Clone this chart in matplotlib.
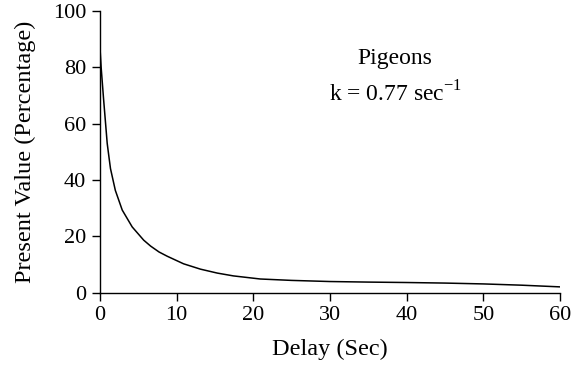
import matplotlib
matplotlib.use('Agg')
import matplotlib.pyplot as plt

# values
delay = [0, 0.02, 0.15, 0.46, 0.76, 0.94, 1.2, 1.37, 2.0, 2.9, 4.2, 5.7, 6.6,
         7.7, 8.76, 10.9, 13.1, 15.3, 17.4, 20.9, 25, 30, 35, 40, 45, 50, 55, 60]
present_value = [93, 86, 80, 69, 59, 53, 47.5, 44, 36.3, 29.3, 23.3, 18.6, 16.5,
                 14.4, 12.9, 10.2, 8.3, 6.9, 5.9, 4.8, 4.3, 3.9, 3.7, 3.55,
                 3.35, 3.05, 2.6, 2.0]
x_ticks = [0, 10, 20, 30, 40, 50, 60]
y_ticks = [0, 20, 40, 60, 80, 100]

plt.rcParams['font.family'] = ['Liberation Serif', 'DejaVu Serif']
plt.rcParams['mathtext.fontset'] = 'custom'
plt.rcParams['mathtext.rm'] = 'Liberation Serif'

fig = plt.figure(figsize=(5.75, 3.69), dpi=100)
ax = fig.add_axes([0.1739, 0.2073, 0.8, 0.7627])

ax.plot(delay, present_value, color='black', lw=1.1)

ax.set_xlim(0, 60)
ax.set_ylim(0, 100)
ax.set_xticks(x_ticks)
ax.set_yticks(y_ticks)
ax.tick_params(direction='out', length=6, width=1, labelsize=16, pad=4)
for s in ['top', 'right']:
    ax.spines[s].set_visible(False)
for s in ['left', 'bottom']:
    ax.spines[s].set_linewidth(1)

ax.set_xlabel('Delay (Sec)', fontsize=17.5, labelpad=10)
ax.set_ylabel('Present Value (Percentage)', fontsize=17.5, labelpad=12)

ax.text(38.5, 83, 'Pigeons', fontsize=17, ha='center', va='center')
ax.text(38.5, 70.5, 'k = 0.77 sec$^{\\mathregular{\u22121}}$', fontsize=17,
        ha='center', va='center')

plt.savefig('out.png', dpi=100)
